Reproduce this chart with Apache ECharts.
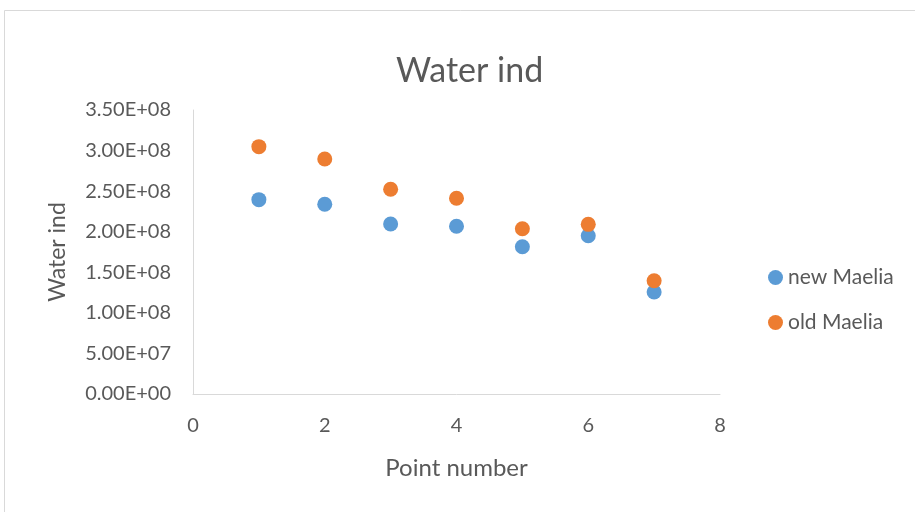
<!DOCTYPE html>
<html>
<head>
<meta charset="utf-8">
<script src="https://cdn.jsdelivr.net/npm/echarts@6/dist/echarts.min.js"></script>
<style>
  html, body { margin: 0; padding: 0; background: #fff; }
  #chart { width: 915px; height: 512px; }
</style>
</head>
<body>
<div id="chart"></div>
<script>
var pointNumbers = [1, 2, 3, 4, 5, 6, 7]
var newMaelia = [2.395e8, 2.338e8, 2.095e8, 2.067e8, 1.815e8, 1.951e8, 1.257e8]
var oldMaelia = [3.048e8, 2.896e8, 2.523e8, 2.412e8, 2.037e8, 2.091e8, 1.396e8]

var fontFam = 'Lato, "Open Sans", sans-serif'
var textCol = '#595959'

function pairs(vals) {
    return pointNumbers.map(function (x, i) { return [x, vals[i]] })
}

function sci(v) {
    if (v === 0) return '0.00E+00'
    var e = Math.floor(Math.log10(v))
    var m = v / Math.pow(10, e)
    return m.toFixed(2) + 'E+' + (e < 10 ? '0' + e : e)
}

var myChart = echarts.init(document.getElementById('chart'))

option = {
    backgroundColor: '#fff',
    animation: false,
    textStyle: { fontFamily: fontFam },
    title: {
        text: 'Water ind',
        left: 396,
        top: 54,
        padding: 0,
        textStyle: { fontSize: 34, fontWeight: 'normal', color: textCol, fontFamily: fontFam }
    },
    // chart border
    graphic: [{
        type: 'rect',
        shape: { x: 4.5, y: 10.5, width: 930, height: 520 },
        style: { fill: 'none', stroke: '#d9d9d9', lineWidth: 1 },
        silent: true
    }],
    legend: {
        orient: 'vertical',
        left: 763,
        top: 262,
        itemGap: 24,
        itemWidth: 15,
        itemHeight: 15,
        itemStyle: {},
        icon: 'circle',
        textStyle: { fontSize: 21, color: textCol, fontFamily: fontFam },
        data: ['new Maelia', 'old Maelia']
    },
    grid: { left: 193, right: 195, top: 110, bottom: 118, containLabel: false },
    xAxis: {
        type: 'value',
        min: 0, max: 8, interval: 2,
        name: 'Point number',
        nameLocation: 'middle',
        nameGap: 62,
        nameTextStyle: { fontSize: 24, color: textCol, fontFamily: fontFam },
        axisLine: { show: true, lineStyle: { color: '#d9d9d9', width: 1 } },
        axisTick: { show: false },
        splitLine: { show: false },
        axisLabel: { fontSize: 20, color: textCol, margin: 22, fontFamily: fontFam }
    },
    yAxis: {
        type: 'value',
        min: 0, max: 3.5e8, interval: 0.5e8,
        name: 'Water ind',
        nameLocation: 'middle',
        nameGap: 124,
        nameTextStyle: { fontSize: 23, color: textCol, fontFamily: fontFam },
        axisLine: { show: true, lineStyle: { color: '#d9d9d9', width: 1 } },
        axisTick: { show: false },
        splitLine: { show: false },
        axisLabel: { fontSize: 20, color: textCol, margin: 22, fontFamily: fontFam, formatter: sci }
    },
    series: [{
        name: 'new Maelia',
        type: 'scatter',
        symbolSize: 15,
        itemStyle: { color: '#5b9bd5', opacity: 1 },
        data: pairs(newMaelia)
    }, {
        name: 'old Maelia',
        type: 'scatter',
        symbolSize: 15,
        itemStyle: { color: '#ed7d31', opacity: 1 },
        data: pairs(oldMaelia)
    }]
};

myChart.setOption(option);
</script>
</body>
</html>
